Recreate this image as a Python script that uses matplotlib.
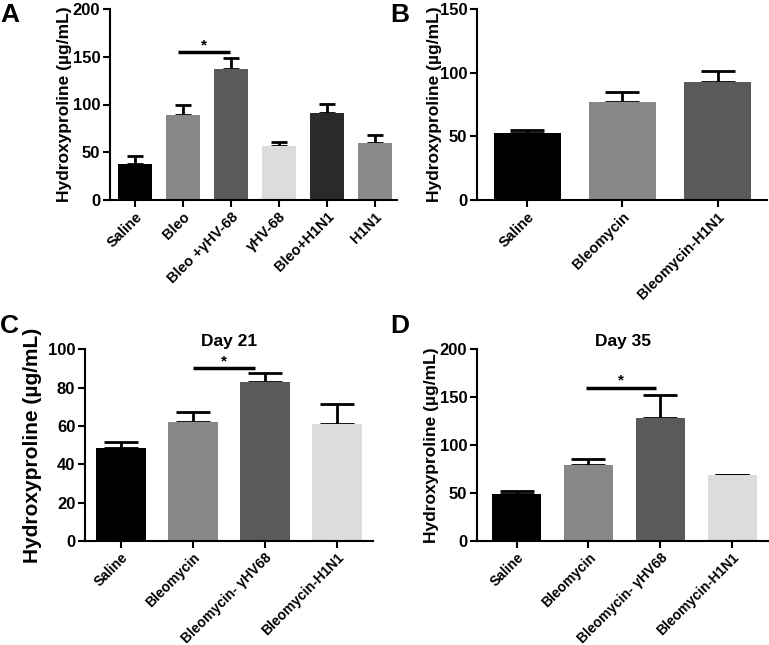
import matplotlib
matplotlib.use("Agg")
import matplotlib.pyplot as plt
import numpy as np

plt.rcParams['font.family'] = ['Liberation Sans', 'DejaVu Sans']
plt.rcParams['font.weight'] = 'bold'

# Panel A
a_labels = ["Saline", "Bleo", "Bleo +γHV-68", "γHV-68", "Bleo+H1N1", "H1N1"]
a_values = [37.5, 89.5, 137, 57, 91, 60]
a_errors = [9, 10, 11.5, 3.5, 9.5, 8]
a_colors = ["#000000", "#888888", "#5a5a5a", "#dcdcdc", "#2a2a2a", "#8a8a8a"]

# Panel B
b_labels = ["Saline", "Bleomycin", "Bleomycin-H1N1"]
b_values = [52.5, 77, 92.5]
b_errors = [2.5, 8, 9]
b_colors = ["#000000", "#888888", "#5a5a5a"]

# Panel C (Day 21)
c_labels = ["Saline", "Bleomycin", "Bleomycin- γHV68", "Bleomycin-H1N1"]
c_values = [48.7, 62.2, 83, 61]
c_errors = [3, 5, 4.5, 10.5]
c_colors = ["#000000", "#888888", "#5a5a5a", "#dcdcdc"]

# Panel D (Day 35)
d_labels = ["Saline", "Bleomycin", "Bleomycin- γHV68", "Bleomycin-H1N1"]
d_values = [49, 79, 128, 68.5]
d_errors = [3, 6, 24.5, 0.5]
d_colors = ["#000000", "#888888", "#5a5a5a", "#dcdcdc"]

fig = plt.figure(figsize=(7.69, 6.45), dpi=100)

ylab = "Hydroxyproline (µg/mL)"

def panel(rect, labels, values, errors, colors, ylim, yticks, xlim, width,
          capsize, ylab_size, tick_size, letter, letter_xy, title=None,
          sig=None, ylab_x=None):
    ax = fig.add_axes(rect)
    x = np.arange(len(values))
    ax.bar(x, values, width=width, color=colors, zorder=2)
    ax.errorbar(x, values, yerr=[np.zeros(len(errors)), errors], fmt='none',
                ecolor='black', elinewidth=2, capsize=capsize, capthick=2, zorder=1)
    ax.set_xlim(*xlim)
    ax.set_ylim(*ylim)
    ax.set_yticks(yticks)
    ax.set_xticks(x)
    ax.set_xticklabels(labels, rotation=45, ha='right', rotation_mode='anchor',
                       fontsize=tick_size, fontweight='bold')
    for lab in ax.get_yticklabels():
        lab.set_fontsize(12)
        lab.set_fontweight('bold')
    ax.set_ylabel(ylab, fontsize=ylab_size, fontweight='bold', labelpad=2)
    if ylab_x is not None:
        ax.yaxis.set_label_coords(ylab_x, 0.5)
    for s in ['top', 'right']:
        ax.spines[s].set_visible(False)
    for s in ['left', 'bottom']:
        ax.spines[s].set_linewidth(1.5)
    ax.tick_params(axis='both', width=1.5, length=5, direction='out', pad=2)
    if title:
        ax.set_title(title, fontsize=12.5, fontweight='bold', pad=-1)
    if sig:
        x0, x1, y = sig
        ax.plot([x0, x1], [y, y], color='black', lw=2.5, solid_capstyle='butt', clip_on=False)
        ax.text((x0 + x1) / 2, y, "*", ha='center', va='bottom', fontsize=11, fontweight='bold')
    fig.text(letter_xy[0], letter_xy[1], letter, fontsize=19, fontweight='bold',
             ha='left', va='top')
    return ax

panel([110/769, 445/645, 287/769, 191/645], a_labels, a_values, a_errors, a_colors,
      (0, 200), [0, 50, 100, 150, 200], (-0.52, 5.46), 0.71, 6, 12.5, 10.5,
      "A", (0.0, 0.995), sig=(0.9, 1.97, 155), ylab_x=-0.132)
panel([477/769, 445/645, 290/769, 191/645], b_labels, b_values, b_errors, b_colors,
      (0, 150), [0, 50, 100, 150], (-0.53, 2.52), 0.7, 12, 12.5, 10.5,
      "B", (0.507, 0.995), ylab_x=-0.122)
panel([85/769, 104/645, 288/769, 191.7/645], c_labels, c_values, c_errors, c_colors,
      (0, 100), [0, 20, 40, 60, 80, 100], (-0.5, 3.5), 0.69, 12, 15, 10,
      "C", (0.0, 0.513), title="Day 21", sig=(1.0, 1.86, 90), ylab_x=-0.148)
panel([477/769, 104.3/645, 292/769, 191.4/645], d_labels, d_values, d_errors, d_colors,
      (0, 200), [0, 50, 100, 150, 200], (-0.55, 3.51), 0.69, 12, 12.5, 10,
      "D", (0.507, 0.513), title="Day 35", sig=(0.97, 1.94, 160), ylab_x=-0.13)

fig.savefig("out.png", dpi=100)
